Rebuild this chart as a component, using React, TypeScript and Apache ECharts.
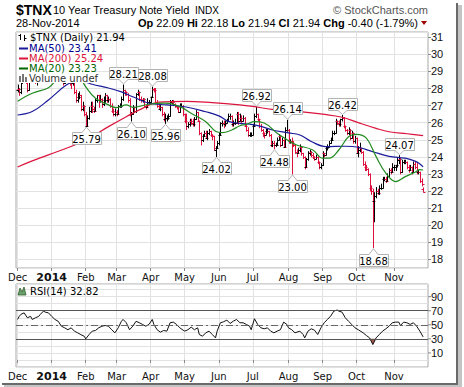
import React, { useEffect, useRef } from 'react';
import * as echarts from 'echarts';

// ---------- Data ----------
// Daily OHLC of $TNX, [open, high, low, close], one array per month
const dec2013 = [
  [27.9, 28.2, 27.8, 28.0], [28.0, 28.0, 27.6, 27.8], [27.8, 28.5, 27.7, 28.4], [28.4, 28.9, 28.3, 28.8],
  [28.8, 29.0, 28.5, 28.6], [28.6, 28.7, 28.3, 28.4], [28.4, 28.5, 27.8, 27.9], [27.9, 28.6, 27.9, 28.5],
  [28.5, 28.9, 28.4, 28.8], [28.8, 28.9, 28.6, 28.7], [28.7, 28.9, 28.6, 28.8], [28.8, 28.8, 28.3, 28.4],
  [28.4, 29.2, 28.2, 28.9], [28.9, 29.5, 28.9, 29.3], [29.3, 29.4, 28.8, 28.9], [28.9, 29.4, 28.8, 29.3],
  [29.3, 29.9, 29.3, 29.8], [29.8, 30.1, 29.7, 30.0], [30.0, 30.2, 29.8, 30.0], [30.0, 30.1, 29.6, 29.7],
  [29.7, 30.4, 29.7, 30.3],
];
const jan2014 = [
  [30.3, 30.3, 29.9, 30.0], [30.0, 30.1, 29.8, 30.0], [30.0, 30.0, 29.5, 29.6], [29.6, 29.8, 29.4, 29.5],
  [29.5, 30.0, 29.4, 29.9], [29.9, 30.0, 29.6, 29.7], [29.7, 29.8, 28.4, 28.6], [28.6, 28.7, 28.2, 28.3],
  [28.3, 28.9, 28.3, 28.8], [28.8, 29.0, 28.6, 28.9], [28.9, 28.9, 28.4, 28.5], [28.5, 28.6, 28.2, 28.4],
  [28.4, 28.5, 28.0, 28.3], [28.3, 28.7, 28.2, 28.6], [28.6, 28.6, 27.7, 27.8], [27.8, 27.9, 27.2, 27.3],
  [27.3, 27.7, 27.2, 27.5], [27.5, 27.8, 27.4, 27.6], [27.6, 27.6, 26.7, 26.8], [26.8, 27.2, 26.7, 27.0],
  [27.0, 27.0, 26.4, 26.5],
];
const feb2014 = [
  [26.5, 26.6, 25.79, 25.8], [25.8, 26.4, 25.8, 26.3], [26.3, 26.9, 26.2, 26.7], [26.7, 27.2, 26.6, 27.0],
  [27.0, 27.2, 26.6, 26.8], [26.8, 26.9, 26.6, 26.7], [26.7, 27.4, 26.7, 27.3], [27.3, 27.6, 27.2, 27.6],
  [27.6, 27.6, 26.9, 27.3], [27.3, 27.6, 27.2, 27.4], [27.4, 27.4, 26.9, 27.1], [27.1, 27.5, 27.0, 27.3],
  [27.3, 27.7, 27.2, 27.6], [27.6, 27.6, 27.2, 27.3], [27.3, 27.5, 27.2, 27.4], [27.4, 27.4, 26.9, 27.0],
  [27.0, 27.1, 26.6, 26.7], [26.7, 26.8, 26.4, 26.5], [26.5, 26.8, 26.4, 26.6],
];
const mar2014 = [
  [26.6, 26.7, 26.4, 26.5], [26.5, 27.0, 26.5, 27.0], [27.0, 27.1, 26.9, 27.0], [27.0, 27.5, 26.9, 27.4],
  [27.4, 28.21, 27.3, 27.9], [27.9, 27.9, 27.6, 27.8], [27.8, 27.8, 27.6, 27.7], [27.7, 27.7, 27.2, 27.3],
  [27.3, 27.4, 26.4, 26.5], [26.5, 26.6, 26.1, 26.5], [26.5, 27.0, 26.5, 26.9], [26.9, 26.9, 26.6, 26.7],
  [26.7, 27.7, 26.6, 27.7], [27.7, 27.9, 27.6, 27.8], [27.8, 27.8, 27.3, 27.4], [27.4, 27.5, 27.2, 27.3],
  [27.3, 27.4, 27.2, 27.4], [27.4, 27.4, 26.9, 27.0], [27.0, 27.0, 26.8, 26.9], [26.9, 27.4, 26.9, 27.2],
  [27.2, 27.3, 27.1, 27.2],
];
const apr2014 = [
  [27.2, 27.5, 27.2, 27.5], [27.5, 28.08, 27.5, 28.0], [28.0, 28.0, 27.8, 27.9], [27.9, 28.0, 27.1, 27.2],
  [27.2, 27.3, 26.9, 27.0], [27.0, 27.1, 26.8, 26.8], [26.8, 27.0, 26.7, 26.9], [26.9, 26.9, 26.4, 26.5],
  [26.5, 26.6, 26.1, 26.2], [26.2, 26.5, 25.96, 26.3], [26.3, 26.4, 26.1, 26.3], [26.3, 26.5, 26.2, 26.4],
  [26.4, 27.3, 26.4, 27.2], [27.2, 27.3, 27.1, 27.2], [27.2, 27.3, 27.0, 27.1], [27.1, 27.1, 26.9, 27.0],
  [27.0, 27.0, 26.8, 26.9], [26.9, 26.9, 26.6, 26.6], [26.6, 27.1, 26.6, 27.0], [27.0, 27.1, 26.9, 27.0],
  [27.0, 27.0, 26.4, 26.5],
];
const may2014 = [
  [26.5, 26.5, 26.0, 26.1], [26.1, 26.5, 25.6, 25.8], [25.8, 26.0, 25.7, 25.9], [25.9, 26.2, 25.8, 26.1],
  [26.1, 26.2, 25.9, 26.0], [26.0, 26.2, 25.8, 25.9], [25.9, 26.3, 25.8, 26.2], [26.2, 26.7, 26.2, 26.6],
  [26.6, 26.6, 26.1, 26.1], [26.1, 26.1, 25.3, 25.4], [25.4, 25.4, 24.7, 25.0], [25.0, 25.3, 24.9, 25.2],
  [25.2, 25.5, 25.2, 25.4], [25.4, 25.5, 25.1, 25.1], [25.1, 25.5, 25.0, 25.4], [25.4, 25.6, 25.3, 25.5],
  [25.5, 25.5, 25.2, 25.3], [25.3, 25.3, 25.0, 25.2], [25.2, 25.2, 24.4, 24.4], [24.4, 24.6, 24.02, 24.5],
  [24.5, 24.9, 24.5, 24.8],
];
const jun2014 = [
  [24.8, 25.4, 24.7, 25.3], [25.3, 26.0, 25.3, 26.0], [26.0, 26.1, 25.8, 26.0], [26.0, 26.1, 25.7, 25.9],
  [25.9, 26.1, 25.8, 26.0], [26.0, 26.2, 26.0, 26.1], [26.1, 26.5, 26.1, 26.4], [26.4, 26.5, 26.2, 26.4],
  [26.4, 26.4, 25.8, 25.9], [25.9, 26.1, 25.8, 26.0], [26.0, 26.2, 25.9, 26.0], [26.0, 26.6, 26.0, 26.5],
  [26.5, 26.6, 25.9, 26.1], [26.1, 26.5, 26.1, 26.3], [26.3, 26.4, 26.0, 26.1], [26.1, 26.4, 26.1, 26.3],
  [26.3, 26.3, 25.8, 25.8], [25.8, 25.9, 25.5, 25.6], [25.6, 25.7, 25.2, 25.3], [25.3, 25.4, 25.2, 25.3],
  [25.3, 25.4, 25.2, 25.3],
];
const jul2014 = [
  [25.3, 25.9, 25.3, 25.8], [25.8, 26.5, 25.8, 26.4], [26.4, 26.92, 26.3, 26.5], [26.5, 26.5, 26.1, 26.2],
  [26.2, 26.2, 25.7, 25.8], [25.8, 25.9, 25.5, 25.6], [25.6, 25.6, 25.2, 25.4], [25.4, 25.4, 25.1, 25.3],
  [25.3, 25.6, 25.3, 25.5], [25.5, 25.6, 25.4, 25.5], [25.5, 25.5, 25.2, 25.3], [25.3, 25.3, 24.6, 24.7],
  [24.7, 24.9, 24.6, 24.8], [24.8, 24.9, 24.48, 24.7], [24.7, 24.8, 24.6, 24.7], [24.7, 25.1, 24.7, 25.0],
  [25.0, 25.3, 25.0, 25.2], [25.2, 25.2, 24.6, 24.7], [24.7, 25.1, 24.7, 25.0], [25.0, 25.0, 24.6, 24.6],
  [24.6, 25.7, 24.6, 25.6], [25.6, 26.14, 25.5, 25.6],
];
const aug2014 = [
  [25.6, 25.6, 24.8, 24.9], [24.9, 25.0, 24.8, 24.9], [24.9, 25.1, 23.0, 24.8], [24.8, 24.9, 24.6, 24.7],
  [24.7, 24.7, 24.2, 24.3], [24.3, 24.4, 24.0, 24.2], [24.2, 24.5, 24.2, 24.4], [24.4, 24.7, 24.3, 24.6],
  [24.6, 24.6, 24.1, 24.2], [24.2, 24.2, 23.9, 24.0], [24.0, 24.0, 23.3, 23.4], [23.4, 23.9, 23.4, 23.9],
  [23.9, 24.3, 23.8, 24.2], [24.2, 24.4, 24.1, 24.3], [24.3, 24.3, 24.0, 24.1], [24.1, 24.2, 23.9, 24.0],
  [24.0, 24.0, 23.8, 23.9], [23.9, 24.1, 23.9, 24.0], [24.0, 24.0, 23.6, 23.7], [23.7, 23.7, 23.3, 23.4],
  [23.4, 23.6, 23.3, 23.5],
];
const sep2014 = [
  [23.5, 24.3, 23.5, 24.2], [24.2, 24.2, 24.0, 24.1], [24.1, 24.6, 24.1, 24.5], [24.5, 24.7, 24.4, 24.6],
  [24.6, 24.9, 24.6, 24.8], [24.8, 25.1, 24.8, 25.0], [25.0, 25.5, 25.0, 25.4], [25.4, 25.5, 25.3, 25.4],
  [25.4, 26.2, 25.4, 26.1], [26.1, 26.1, 25.9, 26.0], [26.0, 26.1, 25.8, 25.9], [25.9, 26.2, 25.8, 26.2],
  [26.2, 26.42, 26.1, 26.3], [26.3, 26.3, 25.7, 25.8], [25.8, 25.8, 25.5, 25.6], [25.6, 25.6, 25.3, 25.4],
  [25.4, 25.7, 25.3, 25.6], [25.6, 25.6, 25.0, 25.1], [25.1, 25.5, 25.1, 25.4], [25.4, 25.4, 24.8, 24.9],
  [24.9, 25.2, 24.8, 25.1],
];
const oct2014 = [
  [25.1, 25.1, 24.2, 24.2], [24.2, 24.6, 24.0, 24.4], [24.4, 24.8, 24.3, 24.5], [24.5, 24.5, 24.2, 24.3],
  [24.3, 24.3, 23.5, 23.6], [23.6, 23.7, 23.2, 23.4], [23.4, 23.5, 23.2, 23.3], [23.3, 23.3, 22.9, 23.0],
  [23.0, 23.0, 22.0, 22.2], [22.2, 22.3, 21.8, 22.0], [22.0, 22.1, 18.68, 21.4], [21.4, 21.9, 20.2, 21.7],
  [21.7, 22.2, 21.6, 22.0], [22.0, 22.1, 21.8, 21.9], [21.9, 22.3, 21.8, 22.2], [22.2, 22.4, 22.1, 22.2],
  [22.2, 22.8, 22.2, 22.7], [22.7, 22.8, 22.6, 22.7], [22.7, 22.8, 22.5, 22.6], [22.6, 23.0, 22.6, 22.9],
  [22.9, 23.3, 22.8, 23.2], [23.2, 23.3, 23.0, 23.1], [23.1, 23.6, 23.1, 23.4],
];
const nov2014 = [
  [23.4, 23.5, 23.2, 23.4], [23.4, 23.5, 23.2, 23.5], [23.5, 23.9, 23.4, 23.8], [23.8, 24.07, 23.6, 23.9],
  [23.9, 23.9, 23.0, 23.1], [23.1, 23.8, 23.1, 23.7], [23.7, 23.8, 23.6, 23.7], [23.7, 23.8, 23.6, 23.7],
  [23.7, 23.7, 23.3, 23.4], [23.4, 23.5, 23.1, 23.2], [23.2, 23.5, 23.2, 23.4], [23.4, 23.4, 23.0, 23.1],
  [23.1, 23.7, 23.1, 23.6], [23.6, 23.7, 23.3, 23.4], [23.4, 23.6, 23.0, 23.1], [23.1, 23.2, 23.0, 23.1],
  [23.1, 23.1, 22.5, 22.6], [22.6, 22.7, 22.3, 22.4], [22.09, 22.18, 21.94, 21.94],
];

// Moving averages, [trading-day index, value]
const ma50 = [
  [0, 26.45], [9, 26.65], [19, 27.33], [30, 28.2], [36, 28.42], [42, 28.38], [46, 28.25], [56, 28.03],
  [64, 27.8], [71, 27.52], [81, 27.14], [92, 27.04], [104, 26.92], [116, 26.64], [124, 26.4], [130, 26.08],
  [137, 25.96], [143, 25.91], [150, 25.78], [157, 25.57], [167, 25.4], [174, 25.28], [181, 24.9],
  [190, 24.6], [202, 24.62], [210, 24.56], [219, 24.3], [229, 24.03], [239, 23.92], [245, 23.75],
  [248, 23.58], [250, 23.41],
];
const ma200 = [
  [0, 23.4], [9, 23.76], [30, 24.5], [42, 24.99], [56, 25.77], [67, 26.35], [77, 26.84], [87, 27.2],
  [104, 27.25], [120, 27.17], [137, 27.04], [145, 26.95], [157, 26.78], [174, 26.65], [188, 26.5],
  [200, 26.32], [210, 26.0], [221, 25.67], [229, 25.47], [240, 25.35], [250, 25.24],
];
const ma20 = [
  [0, 27.25], [9, 27.72], [19, 28.05], [25, 28.6], [33, 29.0], [38, 28.7], [42, 28.1], [48, 27.43],
  [56, 27.04], [61, 26.88], [67, 27.04], [71, 26.9], [81, 27.08], [91, 27.14], [100, 26.94], [108, 26.49],
  [116, 26.06], [122, 25.5], [126, 25.42], [132, 25.57], [137, 25.82], [141, 25.9], [146, 26.06],
  [152, 25.98], [160, 25.38], [168, 24.89], [172, 24.69], [182, 24.4], [188, 23.92], [192, 23.92],
  [198, 24.4], [204, 25.18], [209, 25.32], [215, 25.09], [221, 24.01], [227, 23.04], [233, 22.55],
  [239, 22.84], [245, 23.1], [248, 23.25], [250, 23.23],
];

// RSI(14), [trading-day index, value]
const rsi14 = [
  [0, 57.6], [1, 62], [2, 64.8], [4, 67], [6, 60], [8, 62], [9, 57.6], [11, 60], [13, 62], [14, 64.8],
  [16, 69.5], [17, 68], [19, 67], [21, 62], [23, 57.6], [25, 55], [27, 48], [29, 45.7], [31, 43],
  [33, 45.7], [35, 41], [37, 38.6], [39, 36], [41, 33.8], [42, 30], [44, 36], [46, 41], [48, 41.9],
  [50, 45.7], [52, 48], [54, 49], [56, 48], [58, 43], [60, 38.6], [62, 45.7], [64, 55], [65, 57.6],
  [67, 52.9], [69, 43], [71, 48], [73, 55], [75, 52.9], [77, 50.5], [79, 48], [81, 50.5], [83, 57.6],
  [84, 50.5], [86, 43], [88, 39.5], [90, 41.9], [92, 41], [94, 52.9], [96, 53.8], [98, 50.5],
  [100, 45.7], [102, 42.4], [103, 41], [105, 43], [107, 46.7], [109, 43], [111, 45.7], [112, 36.2],
  [114, 33.8], [116, 38.6], [118, 41], [120, 36.2], [122, 31.4], [123, 41], [125, 52.9], [127, 54.3],
  [129, 56.7], [131, 51.9], [133, 55.2], [135, 57.6], [137, 52.9], [139, 52.9], [141, 50.5],
  [143, 48], [144, 43], [146, 58.6], [148, 50.5], [150, 45.7], [152, 44.3], [154, 45.7], [156, 41],
  [158, 38.6], [160, 41], [162, 43], [164, 53.8], [166, 50.5], [167, 45.7], [169, 43], [171, 38.6],
  [174, 41], [176, 36.2], [177, 31.4], [179, 41], [181, 44.3], [183, 42.4], [185, 36.2], [187, 45.7],
  [189, 52.9], [191, 57.6], [193, 62.4], [195, 69.5], [197, 71], [198, 69.5], [200, 68], [202, 60],
  [204, 55], [206, 50.5], [208, 45.7], [210, 43], [213, 38.6], [215, 34.8], [217, 31.4], [219, 21.9],
  [221, 31.4], [223, 36.2], [225, 41], [227, 44.3], [229, 48], [231, 52.9], [233, 53.8], [235, 53.8],
  [236, 49], [238, 53.8], [240, 52.9], [242, 50.5], [244, 52.9], [246, 48], [248, 41], [250, 32.82],
];

// Labelled highs (1) and lows (-1): [trading-day index, value, side]
const priceNotes = [
  [65, 28.21, 1], [83, 28.08, 1], [147, 26.92, 1], [166, 26.14, 1], [200, 26.42, 1], [235, 24.07, 1],
  [42, 25.79, -1], [70, 26.1, -1], [91, 25.96, -1], [122, 24.02, -1], [158, 24.48, -1], [169, 23.0, -1],
  [219, 18.68, -1],
];

const monthLabels = ['Dec', '2014', 'Feb', 'Mar', 'Apr', 'May', 'Jun', 'Jul', 'Aug', 'Sep', 'Oct', 'Nov'];
const monthStartDays = [0, 21, 42, 61, 82, 103, 124, 145, 167, 188, 209, 232];

const priceAxisMin = 17.49;
const priceAxisMax = 31.31;
const rsiAxisMin = -10;
const rsiAxisMax = 108;
const rsiLabelValues = [10, 30, 50, 70, 90];
const rsiBands = [70, 50, 30];

const header = { symbol: '$TNX', name: '10 Year Treasury Note Yield', exch: 'INDX', date: '28-Nov-2014' };
const quote = { op: '22.09', hi: '22.18', lo: '21.94', cl: '21.94', chg: '-0.40 (-1.79%)' };
const legendVals = { last: '21.94', ma50: '23.41', ma200: '25.24', ma20: '23.23', rsi: '32.82' };

// ---------- Chart ----------
const PAD_L = 1;
const PAD_R = 3;
const FONT = '"DejaVu Sans", Verdana, sans-serif';
const AFONT = '"Liberation Sans", Arial, sans-serif';

export default function App() {
  const ref = useRef<HTMLDivElement>(null);

  useEffect(() => {
    if (!ref.current) return;
    const chart = echarts.init(ref.current, undefined, { renderer: 'svg' });

    const days = [
      ...dec2013, ...jan2014, ...feb2014, ...mar2014, ...apr2014, ...may2014,
      ...jun2014, ...jul2014, ...aug2014, ...sep2014, ...oct2014, ...nov2014,
    ];
    const nCats = days.length + PAD_L + PAD_R;
    const cats = Array.from({ length: nCats }, (_, i) => String(i));
    const ohlcData = days.map((d, i) => [
      i + PAD_L, d[0], d[1], d[2], d[3], i === 0 || d[3] >= days[i - 1][3] ? 1 : 0,
    ]);
    const toCat = (arr: number[][]) => arr.map(([d, v]) => [d + PAD_L, v]);
    const monthAt: Record<number, string> = {};
    monthStartDays.forEach((d, k) => { monthAt[d + PAD_L] = monthLabels[k]; });
    const isMonth = (idx: number) => monthAt[idx] !== undefined;

    const xAxisBase = (gridIndex: number) => ({
      type: 'category',
      gridIndex,
      data: cats,
      boundaryGap: false,
      axisLine: { show: false },
      axisTick: { show: true, interval: (i: number) => isMonth(i), length: 3, lineStyle: { color: '#888' } },
      axisLabel: {
        interval: (i: number) => isMonth(i),
        formatter: (v: string) => {
          const t = monthAt[Number(v)];
          return t === '2014' ? '{b|2014}' : t;
        },
        fontFamily: FONT,
        fontSize: 10,
        color: '#111',
        margin: 4,
        rich: { b: { fontFamily: FONT, fontSize: 11, fontWeight: 'bold', color: '#111' } },
      },
      splitLine: { show: true, interval: (i: number) => isMonth(i), lineStyle: { color: '#e2e2e2', width: 1 } },
    });

    const legendText = (text: string, x: number, y: number, fill: string) => ({
      type: 'text', z: 100,
      style: { text, x, y, font: '10px ' + FONT, fill, lineHeight: 10, verticalAlign: 'middle', textVerticalAlign: 'middle' },
    });

    const option: any = {
      animation: false,
      backgroundColor: '#fff',
      grid: [
        { left: 16, top: 32, width: 412, height: 236, show: true, borderColor: '#a8a8a8', borderWidth: 1 },
        { left: 16, top: 284, width: 412, height: 83, show: true, borderColor: '#a8a8a8', borderWidth: 1 },
      ],
      xAxis: [xAxisBase(0), xAxisBase(1)],
      yAxis: [
        {
          type: 'value', gridIndex: 0, position: 'right', min: priceAxisMin, max: priceAxisMax,
          minInterval: 1, maxInterval: 1, scale: true,
          axisLine: { show: false },
          axisTick: { show: true, length: 3, lineStyle: { color: '#888' } },
          axisLabel: { showMinLabel: false, showMaxLabel: false, fontFamily: AFONT, fontSize: 11, color: '#111', margin: 3 },
          splitLine: { show: true, lineStyle: { color: '#e2e2e2', width: 1 } },
        },
        {
          type: 'value', gridIndex: 1, position: 'right', min: rsiAxisMin, max: rsiAxisMax,
          minInterval: 10, maxInterval: 10,
          axisLine: { show: false },
          axisTick: { show: false },
          axisLabel: {
            showMinLabel: false, showMaxLabel: false, fontFamily: AFONT, fontSize: 11, color: '#111', margin: 0,
            formatter: (v: number) => (rsiLabelValues.includes(Math.round(v)) ? '{t|}' + Math.round(v) : ''),
            rich: { t: { width: 3, height: 1, backgroundColor: '#888', padding: 0 } },
          },
          splitLine: { show: true, lineStyle: { color: '#e2e2e2', width: 1 } },
        },
      ],
      series: [
        {
          type: 'custom', name: 'TNX', xAxisIndex: 0, yAxisIndex: 0, clip: true, z: 2,
          encode: { x: 0, y: [1, 2, 3, 4] },
          data: ohlcData,
          renderItem: (_p: any, api: any) => {
            const x = api.value(0);
            const ph = api.coord([x, api.value(2)]);
            const pl = api.coord([x, api.value(3)]);
            const po = api.coord([x, api.value(1)]);
            const pc = api.coord([x, api.value(4)]);
            const cx = Math.round(ph[0]) + 0.5;
            const stroke = api.value(5) ? '#000000' : '#e0103c';
            const st = { stroke, lineWidth: 1 };
            return {
              type: 'group',
              children: [
                { type: 'line', shape: { x1: cx, y1: ph[1] - 0.5, x2: cx, y2: pl[1] + 0.5 }, style: st },
                { type: 'line', shape: { x1: cx - 2, y1: Math.round(po[1]) + 0.5, x2: cx, y2: Math.round(po[1]) + 0.5 }, style: st },
                { type: 'line', shape: { x1: cx, y1: Math.round(pc[1]) + 0.5, x2: cx + 2, y2: Math.round(pc[1]) + 0.5 }, style: st },
              ],
            };
          },
        },
        {
          type: 'line', name: 'MA200', xAxisIndex: 0, yAxisIndex: 0, data: toCat(ma200), smooth: 0.4,
          showSymbol: false, symbol: 'none', z: 3, lineStyle: { color: '#dc143c', width: 1.2 },
        },
        {
          type: 'line', name: 'MA50', xAxisIndex: 0, yAxisIndex: 0, data: toCat(ma50), smooth: 0.4,
          showSymbol: false, symbol: 'none', z: 3, lineStyle: { color: '#1a1a9a', width: 1.2 },
        },
        {
          type: 'line', name: 'MA20', xAxisIndex: 0, yAxisIndex: 0, data: toCat(ma20), smooth: 0.4,
          showSymbol: false, symbol: 'none', z: 3, lineStyle: { color: '#228b22', width: 1.2 },
        },
        {
          type: 'custom', name: 'notes', xAxisIndex: 0, yAxisIndex: 0, clip: false, z: 10,
          data: priceNotes.map(([d, v, s]) => [d + PAD_L, v, s]),
          renderItem: (_p: any, api: any) => {
            const v = api.value(1);
            const side = api.value(2);
            const p = api.coord([api.value(0), v]);
            const x = Math.round(p[0]) + 0.5;
            const w = 29;
            const h = 12;
            let tip: number;
            let edge: number;
            let boxY: number;
            if (side > 0) {
              tip = p[1] - 1;
              edge = Math.round(tip - 5) + 0.5;
              boxY = edge - h;
            } else {
              tip = p[1] + 1;
              edge = Math.round(tip + 5) + 0.5;
              boxY = edge;
            }
            const inward = side > 0 ? -1 : 1;
            return {
              type: 'group',
              children: [
                { type: 'rect', shape: { x: Math.round(x - w / 2) + 0.5, y: boxY, width: w, height: h },
                  style: { fill: '#fff', stroke: '#b4b4b4', lineWidth: 1 } },
                { type: 'polygon', shape: { points: [[x - 3.5, edge + inward], [x - 4.5, edge], [x, tip], [x + 4.5, edge], [x + 3.5, edge + inward]] },
                  style: { fill: '#fff' } },
                { type: 'polyline', shape: { points: [[x - 4.5, edge], [x, tip], [x + 4.5, edge]] },
                  style: { stroke: '#b4b4b4', lineWidth: 1, fill: 'none' } },
                { type: 'text', style: { text: v.toFixed(2), x, y: boxY + h / 2 + 0.5, align: 'center', verticalAlign: 'middle',
                  textAlign: 'center', textVerticalAlign: 'middle', font: '10px ' + FONT, fill: '#000' } },
              ],
            };
          },
        },
        {
          type: 'line', name: 'RSI fill', xAxisIndex: 1, yAxisIndex: 1,
          data: toCat(rsi14).map(([c, v]) => [c, Math.min(v, 30)]),
          showSymbol: false, symbol: 'none', lineStyle: { width: 0, opacity: 0 },
          areaStyle: { origin: 30, color: '#a85a4c', opacity: 1 }, z: 2,
        },
        {
          type: 'line', name: 'RSI', xAxisIndex: 1, yAxisIndex: 1, data: toCat(rsi14),
          showSymbol: false, symbol: 'none', z: 4, lineStyle: { color: '#111', width: 1 },
          markLine: {
            silent: true, symbol: ['none', 'none'], label: { show: false },
            lineStyle: { color: '#555', width: 1, type: 'solid' },
            data: rsiBands.map((b) => (b === 50
              ? { yAxis: b, lineStyle: { color: '#666', type: [7, 3, 2, 3] } }
              : { yAxis: b })),
          },
        },
      ],
      graphic: [
        // header
        { type: 'text', z: 100, style: { text: header.symbol, x: 16, y: 10, font: 'bold 14px ' + AFONT, fill: '#000', verticalAlign: 'middle', textVerticalAlign: 'middle' } },
        { type: 'text', z: 100, style: { text: header.name, x: 53, y: 10, font: '11px ' + AFONT, fill: '#000', verticalAlign: 'middle', textVerticalAlign: 'middle' } },
        { type: 'text', z: 100, style: { text: header.exch, x: 195, y: 10.5, font: '10px ' + AFONT, fill: '#000', verticalAlign: 'middle', textVerticalAlign: 'middle' } },
        { type: 'text', z: 100, style: { text: '© StockCharts.com', x: 428, y: 10, font: '11px ' + AFONT, fill: '#555', align: 'right', textAlign: 'right', verticalAlign: 'middle', textVerticalAlign: 'middle' } },
        { type: 'text', z: 100, style: { text: header.date, x: 16, y: 23, font: '11px ' + AFONT, fill: '#000', verticalAlign: 'middle', textVerticalAlign: 'middle' } },
        {
          type: 'text', z: 100,
          style: {
            text: `{b|Op} ${quote.op} {b|Hi} ${quote.hi} {b|Lo} ${quote.lo} {b|Cl} ${quote.cl} {b|Chg} ${quote.chg}`,
            x: 418, y: 23, font: '11px ' + AFONT, fill: '#000', align: 'right', textAlign: 'right',
            verticalAlign: 'middle', textVerticalAlign: 'middle',
            rich: { b: { font: 'bold 11px ' + AFONT, fill: '#000' } },
          },
        },
        { type: 'polygon', z: 100, shape: { points: [[421, 21], [427, 21], [424, 25]] }, style: { fill: '#a00000' } },
        // price legend box
        { type: 'rect', z: 90, shape: { x: 17, y: 33, width: 77, height: 50 }, style: { fill: '#fff' } },
        { type: 'line', z: 100, shape: { x1: 20.5, y1: 34, x2: 20.5, y2: 40 }, style: { stroke: '#000', lineWidth: 1 } },
        { type: 'line', z: 100, shape: { x1: 18.5, y1: 35.5, x2: 20.5, y2: 35.5 }, style: { stroke: '#000', lineWidth: 1 } },
        { type: 'line', z: 100, shape: { x1: 24.5, y1: 35, x2: 24.5, y2: 41 }, style: { stroke: '#000', lineWidth: 1 } },
        { type: 'line', z: 100, shape: { x1: 24.5, y1: 38.5, x2: 26.5, y2: 38.5 }, style: { stroke: '#000', lineWidth: 1 } },
        legendText(`${header.symbol} (Daily) ${legendVals.last}`, 30, 37.5, '#000'),
        { type: 'line', z: 100, shape: { x1: 19, y1: 48.5, x2: 28, y2: 48.5 }, style: { stroke: '#1a1a9a', lineWidth: 2 } },
        legendText(`MA(50) ${legendVals.ma50}`, 29, 48.5, '#00008b'),
        { type: 'line', z: 100, shape: { x1: 19, y1: 58.5, x2: 28, y2: 58.5 }, style: { stroke: '#dc143c', lineWidth: 2 } },
        legendText(`MA(200) ${legendVals.ma200}`, 29, 58.5, '#dc143c'),
        { type: 'line', z: 100, shape: { x1: 19, y1: 68.5, x2: 28, y2: 68.5 }, style: { stroke: '#006400', lineWidth: 2 } },
        legendText(`MA(20) ${legendVals.ma20}`, 29, 68.5, '#006400'),
        { type: 'rect', z: 100, shape: { x: 19, y: 76, width: 2, height: 6 }, style: { fill: '#777' } },
        { type: 'rect', z: 100, shape: { x: 22, y: 74, width: 2, height: 8 }, style: { fill: '#777' } },
        { type: 'rect', z: 100, shape: { x: 25, y: 77, width: 2, height: 5 }, style: { fill: '#777' } },
        legendText('Volume undef', 29, 78.5, '#333'),
        // RSI legend
        { type: 'polygon', z: 100, shape: { points: [[18, 295], [20, 288], [22, 292], [24, 287], [26, 295]] }, style: { fill: '#6a9f6a', stroke: '#2f5f2f', lineWidth: 0.8 } },
        legendText(`RSI(14) ${legendVals.rsi}`, 30, 291, '#000'),
        // frame shadow
        { type: 'rect', z: 100, shape: { x: 456, y: 3, width: 2, height: 382 }, style: { fill: '#6a6a6a' } },
        { type: 'rect', z: 100, shape: { x: 458, y: 5, width: 4, height: 382 }, style: { fill: '#c4c4c4' } },
        { type: 'rect', z: 100, shape: { x: 2, y: 383, width: 456, height: 2 }, style: { fill: '#6a6a6a' } },
        { type: 'rect', z: 100, shape: { x: 4, y: 385, width: 458, height: 2 }, style: { fill: '#c4c4c4' } },
      ],
    };

    chart.setOption(option);
    return () => chart.dispose();
  }, []);

  return <div ref={ref} style={{ position: 'absolute', left: 0, top: 0, width: 464, height: 387 }} />;
}
